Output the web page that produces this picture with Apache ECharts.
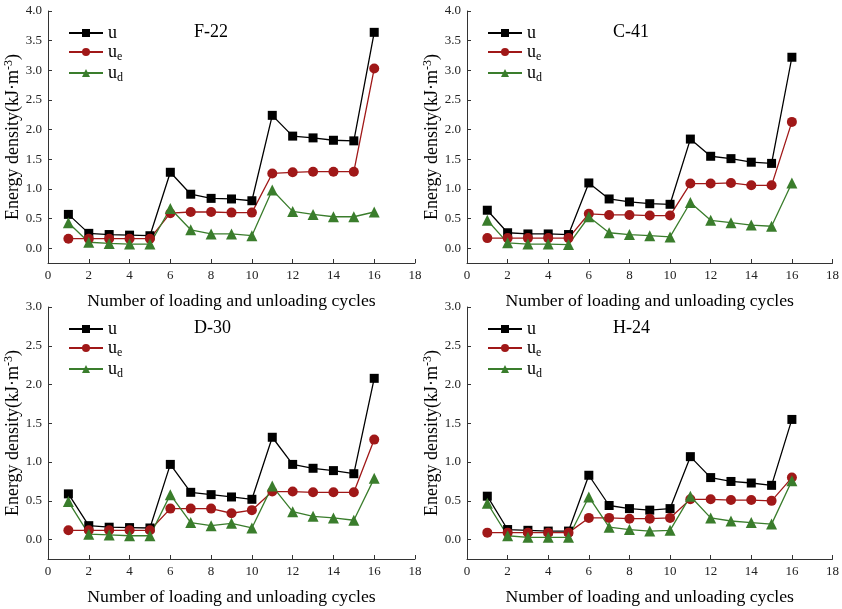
<!DOCTYPE html>
<html>
<head>
<meta charset="utf-8">
<script src="https://cdn.jsdelivr.net/npm/echarts@6/dist/echarts.min.js"></script>
<style>
  html, body { margin: 0; padding: 0; background: #fff; }
  #main { width: 842px; height: 609px; }
</style>
</head>
<body>
<div id="main"></div>
<script>
// loading/unloading cycle numbers
var cycles = [1, 2, 3, 4, 5, 6, 7, 8, 9, 10, 11, 12, 13, 14, 15, 16];

// F-22
var f22U  = [0.57, 0.25, 0.23, 0.22, 0.21, 1.28, 0.91, 0.84, 0.83, 0.80, 2.24, 1.89, 1.86, 1.82, 1.81, 3.64];
var f22Ue = [0.16, 0.16, 0.16, 0.16, 0.16, 0.59, 0.61, 0.61, 0.60, 0.60, 1.26, 1.28, 1.29, 1.29, 1.29, 3.03];
var f22Ud = [0.43, 0.10, 0.08, 0.07, 0.07, 0.67, 0.31, 0.24, 0.24, 0.21, 0.98, 0.62, 0.57, 0.53, 0.53, 0.61];
// C-41
var c41U  = [0.64, 0.26, 0.24, 0.24, 0.23, 1.10, 0.83, 0.78, 0.75, 0.74, 1.84, 1.55, 1.51, 1.45, 1.43, 3.22];
var c41Ue = [0.17, 0.17, 0.17, 0.17, 0.17, 0.58, 0.56, 0.56, 0.55, 0.55, 1.09, 1.09, 1.10, 1.06, 1.06, 2.13];
var c41Ud = [0.47, 0.09, 0.07, 0.07, 0.06, 0.53, 0.26, 0.23, 0.21, 0.19, 0.77, 0.47, 0.43, 0.39, 0.37, 1.10];
// D-30
var d30U  = [0.59, 0.18, 0.16, 0.155, 0.15, 0.97, 0.61, 0.58, 0.55, 0.52, 1.32, 0.97, 0.92, 0.89, 0.85, 2.08];
var d30Ue = [0.12, 0.12, 0.12, 0.12, 0.12, 0.40, 0.40, 0.40, 0.34, 0.38, 0.62, 0.62, 0.61, 0.61, 0.61, 1.29];
var d30Ud = [0.49, 0.07, 0.06, 0.05, 0.05, 0.58, 0.22, 0.18, 0.21, 0.15, 0.69, 0.36, 0.30, 0.28, 0.25, 0.79];
// H-24
var h24U  = [0.56, 0.13, 0.12, 0.11, 0.11, 0.83, 0.44, 0.40, 0.38, 0.40, 1.07, 0.80, 0.75, 0.73, 0.70, 1.55];
var h24Ue = [0.09, 0.09, 0.09, 0.09, 0.09, 0.28, 0.28, 0.27, 0.27, 0.28, 0.52, 0.52, 0.51, 0.51, 0.50, 0.80];
var h24Ud = [0.47, 0.05, 0.03, 0.03, 0.03, 0.55, 0.16, 0.13, 0.11, 0.12, 0.56, 0.28, 0.24, 0.22, 0.20, 0.76];

var sampleNames = ['F-22', 'C-41', 'D-30', 'H-24'];
var yTicksTop = [0, 0.5, 1.0, 1.5, 2.0, 2.5, 3.0, 3.5, 4.0];
var yTicksBottom = [0, 0.5, 1.0, 1.5, 2.0, 2.5, 3.0];
var yMaxes = [4.0, 4.0, 3.0, 3.0];

var panelData = [
  [f22U, f22Ue, f22Ud],
  [c41U, c41Ue, c41Ud],
  [d30U, d30Ue, d30Ud],
  [h24U, h24Ue, h24Ud]
];

var FONT = '"Liberation Serif", "Times New Roman", serif';
var seriesNames = ['u', 'ue', 'ud'];
var colors = ['#000000', '#a01818', '#3a7d2c'];
var symbols = ['rect', 'circle', 'triangle'];
var symbolSizes = [9, 10, 11];

// grid positions [left, top]
var gridPos = [[48, 11], [467, 11], [48, 307], [467, 307]];
var gridW = 367, gridH = 252;

function pairs(vals) {
  return cycles.map(function (c, i) { return [c, vals[i]]; });
}

var grids = [], xAxes = [], yAxes = [], series = [], legends = [], graphics = [];

for (var p = 0; p < 4; p++) {
  var gx = gridPos[p][0], gy = gridPos[p][1];
  grids.push({ left: gx, top: gy, width: gridW, height: gridH, containLabel: false });

  xAxes.push({
    gridIndex: p, type: 'value', min: 0, max: 18, interval: 2,
    name: 'Number of loading and unloading cycles',
    nameLocation: 'middle', nameGap: 29,
    nameTextStyle: { fontFamily: FONT, fontSize: 17.7, color: '#000' },
    axisLine: { onZero: false, lineStyle: { color: '#333', width: 1 } },
    axisTick: { inside: true, length: 4, lineStyle: { color: '#333' } },
    axisLabel: { fontFamily: FONT, fontSize: 13, color: '#222', margin: 6 },
    splitLine: { show: false }
  });

  var yt = p < 2 ? yTicksTop : yTicksBottom;
  yAxes.push({
    gridIndex: p, type: 'value', min: -0.25, max: yMaxes[p],
    name: '{n|Energy density(kJ·m}{sup|-3}{n|)}',
    nameLocation: 'middle', nameGap: 25,
    nameTextStyle: {
      fontFamily: FONT, fontSize: 18, color: '#000',
      rich: {
        n: { fontFamily: FONT, fontSize: 18, color: '#000' },
        sup: { fontFamily: FONT, fontSize: 12, color: '#000', verticalAlign: 'top', padding: [0, 0, 8, 0] }
      }
    },
    axisLine: { onZero: false, lineStyle: { color: '#333', width: 1 } },
    axisTick: { inside: true, length: 4, customValues: yt, lineStyle: { color: '#333' } },
    axisLabel: {
      fontFamily: FONT, fontSize: 13, color: '#222', margin: 6, customValues: yt,
      formatter: function (v) { return v.toFixed(1); }
    },
    splitLine: { show: false }
  });

  for (var s = 0; s < 3; s++) {
    series.push({
      name: seriesNames[s], type: 'line',
      xAxisIndex: p, yAxisIndex: p,
      data: pairs(panelData[p][s]),
      symbol: symbols[s], symbolSize: symbolSizes[s],
      itemStyle: { color: colors[s] },
      lineStyle: { color: colors[s], width: 1.3 },
      animation: false
    });
  }

  legends.push({
    orient: 'vertical', left: gx + 15, top: gy + 8,
    itemWidth: 34, itemHeight: 10, itemGap: 1,
    data: seriesNames,
    formatter: function (name) {
      if (name === 'u') return '{b|u}';
      return '{b|u}{s|' + name.slice(1) + '}';
    },
    textStyle: {
      fontFamily: FONT, fontSize: 18, color: '#000',
      rich: {
        b: { fontFamily: FONT, fontSize: 18, color: '#000', height: 14 },
        s: { fontFamily: FONT, fontSize: 12, color: '#000', verticalAlign: 'bottom', padding: [10, 0, 0, 0] }
      }
    },
    selectedMode: false
  });

  graphics.push({
    type: 'text', left: gx + 146, top: gy + 12,
    style: { text: sampleNames[p], fontFamily: FONT, fontSize: 18, fill: '#000' }
  });
}

var chart = echarts.init(document.getElementById('main'), null, { renderer: 'canvas' });
chart.setOption({
  animation: false,
  backgroundColor: '#fff',
  grid: grids,
  xAxis: xAxes,
  yAxis: yAxes,
  legend: legends,
  graphic: graphics,
  series: series
});
</script>
</body>
</html>
